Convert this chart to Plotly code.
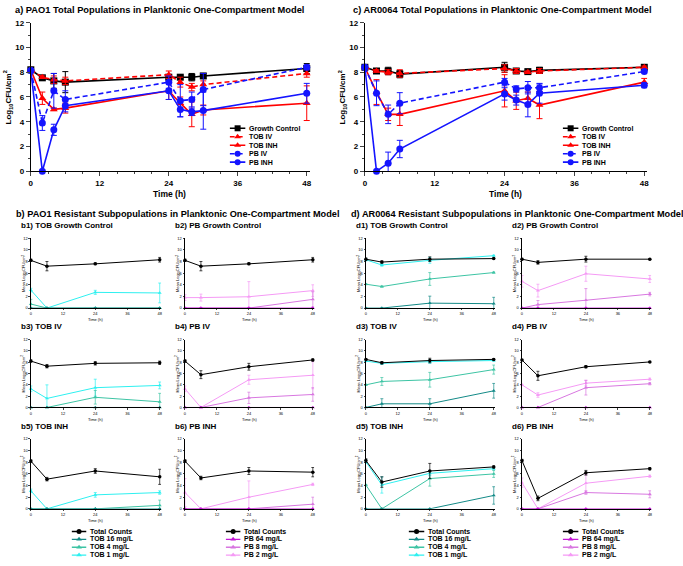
import plotly.graph_objects as go

W, H = 683, 566

# ---------------- DATA ----------------
TIME_BIG = [0, 2, 4, 6, 24, 26, 28, 30, 48]
BIG_NAMES = ["Growth Control", "TOB IV", "TOB INH", "PB IV", "PB INH"]

PAO1_GC = [8.2, 7.55, 7.3, 7.2, 7.6, 7.6, 7.6, 7.7, 8.3]
PAO1_GC_SD = [0.1, 0.15, 0.6, 0.85, 0.2, 0.15, 0.3, 0.2, 0.4]
PAO1_TOB_IV = [8.2, 7.6, 7.4, 7.3, 7.8, 7.2, 6.8, 7.0, 7.9]
PAO1_TOB_IV_SD = [0.1, 0.1, 0.3, 0.3, 0.3, 0.4, 0.3, 0.3, 0.3]
PAO1_TOB_INH = [8.2, 5.9, 5.0, 5.1, 6.5, 5.5, 4.6, 4.95, 5.5]
PAO1_TOB_INH_SD = [0.1, 0.5, 0.1, 0.4, 0.7, 0.5, 1.0, 0.4, 1.4]
PAO1_PB_IV = [8.15, 3.9, 6.5, 5.8, 7.2, 5.7, 5.8, 6.6, 8.4]
PAO1_PB_IV_SD = [0.1, 0.6, 1.4, 0.7, 0.5, 1.3, 0.6, 1.3, 0.2]
PAO1_PB_INH = [8.15, 0.0, 3.35, 5.3, 6.5, 5.0, 4.8, 4.9, 6.3]
PAO1_PB_INH_SD = [0.1, 0.0, 0.45, 0.5, 0.7, 0.6, 0.3, 1.5, 0.8]

AR_GC = [8.4, 8.1, 8.1, 7.85, 8.4, 8.1, 8.05, 8.15, 8.4]
AR_GC_SD = [0.1, 0.15, 0.3, 0.3, 0.4, 0.2, 0.15, 0.25, 0.15]
AR_TOB_IV = [8.4, 8.1, 8.0, 7.9, 8.3, 8.1, 8.0, 8.1, 8.4]
AR_TOB_IV_SD = [0.1, 0.1, 0.2, 0.3, 0.3, 0.2, 0.1, 0.2, 0.1]
AR_TOB_INH = [8.4, 6.4, 4.6, 4.6, 6.5, 5.7, 5.9, 5.35, 7.2]
AR_TOB_INH_SD = [0.1, 1.0, 0.5, 0.9, 1.3, 0.7, 0.5, 1.1, 0.3]
AR_PB_IV = [8.4, 6.3, 4.6, 5.5, 7.2, 6.65, 6.75, 6.75, 8.05]
AR_PB_IV_SD = [0.1, 1.0, 0.75, 0.85, 0.3, 0.25, 0.5, 0.3, 0.1]
AR_PB_INH = [8.4, 0.0, 0.65, 1.8, 6.25, 5.75, 5.4, 6.3, 6.95]
AR_PB_INH_SD = [0.1, 0.0, 0.9, 0.7, 0.5, 0.4, 1.0, 0.8, 0.2]

TIME_SUB = [0, 6, 24, 48]
TOB_NAMES = ["Total Counts", "TOB 16 mg/L", "TOB 4 mg/L", "TOB 1 mg/L"]
PB_NAMES = ["Total Counts", "PB 64 mg/L", "PB 8 mg/L", "PB 2 mg/L"]

# each: [Total, high, mid, low]
B1_MEAN = [[8.2, 7.2, 7.6, 8.3], [0, 0, 0, 0], [0.7, 0, 0, 0], [3.1, 0, 2.7, 2.6]]
B1_SD = [[0.2, 0.8, 0.15, 0.4], [0, 0, 0, 0], [0.8, 0, 0, 0], [0.3, 0, 0.35, 1.7]]
B2_MEAN = [[8.2, 7.2, 7.6, 8.3], [0, 0, 0, 0], [0, 0, 0, 1.5], [1.8, 1.8, 1.95, 3.0]]
B2_SD = [[0.2, 0.8, 0.15, 0.4], [0, 0, 0, 0], [0, 0, 0, 1.3], [0.5, 0.6, 2.6, 1.0]]
B3_MEAN = [[8.2, 7.3, 7.8, 7.9], [0, 0, 0, 0], [0, 0, 1.8, 1.0], [3.3, 1.6, 3.5, 3.9]]
B3_SD = [[0.2, 0.3, 0.3, 0.3], [0, 0, 0, 0], [0, 0, 1.2, 1.5], [0.5, 2.4, 1.5, 0.6]]
B4_MEAN = [[8.2, 5.8, 7.2, 8.4], [0, 0, 0, 0], [0, 0, 1.7, 2.3], [3.3, 0, 4.9, 5.7]]
B4_SD = [[0.2, 0.7, 0.6, 0.2], [0, 0, 0, 0], [0, 0, 1.0, 1.2], [0.5, 0, 0.8, 2.4]]
B5_MEAN = [[8.2, 5.1, 6.5, 5.5], [0, 0, 0, 0], [0, 0, 0, 0.6], [3.1, 0, 2.4, 2.8]]
B5_SD = [[0.2, 0.3, 0.4, 1.3], [0, 0, 0, 0], [0, 0, 0, 0.9], [0.3, 0, 0.4, 0.3]]
B6_MEAN = [[8.2, 5.3, 6.5, 6.3], [0, 0, 0, 0], [0, 0, 0, 0.8], [2.8, 0, 2.0, 4.2]]
B6_SD = [[0.2, 0.3, 0.6, 0.8], [0, 0, 0, 0], [0, 0, 0, 1.2], [2.4, 0, 2.8, 0.2]]

D1_MEAN = [[8.4, 7.9, 8.4, 8.5], [0, 0, 0.85, 0.75], [4.1, 3.7, 5.0, 6.1], [8.3, 7.4, 8.2, 9.0]]
D1_SD = [[0.2, 0.2, 0.4, 0.1], [0, 0, 1.2, 1.1], [0.1, 0.1, 1.1, 0.1], [0.2, 0.2, 0.5, 0.1]]
D2_MEAN = [[8.4, 7.85, 8.4, 8.4], [0, 0, 0, 0], [0, 0.6, 1.35, 2.4], [4.6, 3.0, 5.9, 5.0]]
D2_SD = [[0.15, 0.3, 0.5, 0.1], [0, 0, 0, 0], [0, 0.7, 2.0, 0.3], [1.0, 1.1, 1.3, 0.6]]
D3_MEAN = [[8.5, 7.9, 8.3, 8.5], [0, 0.65, 0.65, 2.95], [4.0, 4.6, 4.9, 6.7], [8.2, 7.8, 8.1, 8.3]]
D3_SD = [[0.15, 0.2, 0.4, 0.15], [0, 0.9, 0.9, 1.3], [0.1, 0.7, 1.3, 0.8], [0.1, 0.2, 0.3, 0.1]]
D4_MEAN = [[8.4, 5.6, 7.2, 8.05], [0, 0, 0, 0], [0, 0, 3.5, 4.2], [4.0, 2.2, 4.3, 5.0]]
D4_SD = [[0.1, 0.8, 0.2, 0.1], [0, 0, 0, 0], [0, 0, 1.3, 0.2], [0.1, 0.4, 0.5, 0.2]]
D5_MEAN = [[8.3, 4.6, 6.5, 7.2], [0, 0, 0, 2.3], [4.1, 0, 5.2, 6.0], [8.1, 4.1, 6.1, 6.9]]
D5_SD = [[0.3, 0.9, 1.3, 0.2], [0, 0, 0, 1.5], [0.1, 0, 1.3, 0.6], [0.3, 1.4, 0.4, 0.2]]
D6_MEAN = [[8.3, 1.8, 6.2, 6.9], [0, 0, 0, 0], [0, 0, 2.8, 2.5], [4.5, 0, 4.4, 5.6]]
D6_SD = [[0.2, 0.4, 0.4, 0.2], [0, 0, 0, 0], [0, 0, 0.3, 0.6], [0.8, 0, 1.5, 0.2]]

# ---------------- STYLE ----------------
BOLD = "Liberation Sans, Arial, sans-serif"
BIG_COLORS = ["#000000", "#FF0000", "#FF0000", "#1414FF", "#1414FF"]
BIG_SYMBOLS = ["square", "triangle-up", "triangle-up", "circle", "circle"]
BIG_DASH = ["solid", "5px,3px", "solid", "5px,3px", "solid"]
TOB_COLORS = ["#000000", "#138A87", "#3DC4A4", "#2EF0F0"]
PB_COLORS = ["#000000", "#C416D6", "#D877E0", "#F59AF5"]
SUB_SYMBOLS = ["circle", "triangle-up", "triangle-up", "triangle-up"]

fig = go.Figure()
layout = dict(width=W, height=H, margin=dict(l=0, r=0, t=0, b=0),
              paper_bgcolor="white", plot_bgcolor="white", showlegend=False,
              font=dict(family=BOLD, color="black"))
annotations = []
axis_count = [0]


def px_x(a, b):
    return [a / W, b / W]


def px_y(top, bottom):
    return [1 - bottom / H, 1 - top / H]


def new_axes(x0, x1, ytop, ybot, xr, yr, xaxis_extra=None, yaxis_extra=None):
    axis_count[0] += 1
    k = axis_count[0]
    sfx = "" if k == 1 else str(k)
    xa = dict(domain=px_x(x0, x1), anchor="y" + sfx, range=xr, showgrid=False,
              zeroline=False, showline=True, linecolor="black", linewidth=1)
    ya = dict(domain=px_y(ytop, ybot), anchor="x" + sfx, range=yr, showgrid=False,
              zeroline=False, showline=True, linecolor="black", linewidth=1)
    if xaxis_extra:
        xa.update(xaxis_extra)
    if yaxis_extra:
        ya.update(yaxis_extra)
    layout["xaxis" + sfx] = xa
    layout["yaxis" + sfx] = ya
    return "x" + sfx, "y" + sfx


def text(x, y, s, size, bold=True, xanchor="left", angle=0, yanchor="middle"):
    annotations.append(dict(x=x / W, y=1 - y / H, xref="paper", yref="paper", text=("<b>%s</b>" % s) if bold else s,
                            showarrow=False, xanchor=xanchor, yanchor=yanchor, textangle=angle,
                            borderpad=0, font=dict(size=size, family=BOLD, color="black")))


def legend_block(x0, x1, ytop, ybot, names, colors, symbols, dashes, msize, lw, fsize):
    n = len(names)
    xa, ya = new_axes(x0, x1, ytop, ybot, [0, 1], [n - 0.5, -0.5],
                      dict(visible=False), dict(visible=False))
    for i, nm in enumerate(names):
        fig.add_trace(go.Scatter(x=[0, 0.5, 1], y=[i, i, i], xaxis=xa, yaxis=ya, mode="lines",
                                 line=dict(color=colors[i], width=lw, dash=dashes[i]),
                                 cliponaxis=False, hoverinfo="skip"))
        fig.add_trace(go.Scatter(x=[0.5], y=[i], xaxis=xa, yaxis=ya, mode="markers",
                                 marker=dict(color=colors[i], symbol=symbols[i], size=msize),
                                 cliponaxis=False, hoverinfo="skip"))
        annotations.append(dict(x=1, y=i, xref=xa, yref=ya, text="<b>%s</b>" % nm, showarrow=False,
                                xanchor="left", yanchor="middle", xshift=2, borderpad=0,
                                font=dict(size=fsize, family=BOLD, color="black")))


def big_panel(x0, x1, xmax, series, sds):
    tickf = dict(size=8, family=BOLD, color="black")
    xa, ya = new_axes(x0, x1, 19, 170, [0, xmax], [0, 12],
                      dict(tickvals=[0, 12, 24, 36, 48], ticktext=["<b>%d</b>" % v for v in [0, 12, 24, 36, 48]],
                           ticks="outside", ticklen=4, tickfont=tickf,
                           minor=dict(ticks="outside", ticklen=2, dtick=3, tick0=0)),
                      dict(tickvals=list(range(0, 13, 2)), ticktext=["<b>%d</b>" % v for v in range(0, 13, 2)],
                           ticks="outside", ticklen=4, tickfont=tickf,
                           minor=dict(ticks="outside", ticklen=2, dtick=1, tick0=0)))
    for i in range(len(series)):
        fig.add_trace(go.Scatter(x=TIME_BIG, y=series[i], xaxis=xa, yaxis=ya, mode="lines+markers",
                                 line=dict(color=BIG_COLORS[i], width=1.6, dash=BIG_DASH[i]),
                                 marker=dict(color=BIG_COLORS[i], symbol=BIG_SYMBOLS[i], size=7),
                                 error_y=dict(type="data", array=sds[i], color=BIG_COLORS[i],
                                              thickness=1, width=3),
                                 cliponaxis=False, opacity=1))


def sub_panel(x0, x1, ytop, ybot, means, sds, colors):
    tickf = dict(size=4, family=BOLD, color="black")
    xa, ya = new_axes(x0, x1, ytop, ybot, [0, 48.5], [0, 12],
                      dict(tickvals=[0, 12, 24, 36, 48], ticks="outside", ticklen=1.5, tickfont=tickf,
                           tickwidth=0.6, linewidth=0.7),
                      dict(tickvals=list(range(0, 13, 2)), ticks="outside", ticklen=1.5, tickfont=tickf,
                           tickwidth=0.6, linewidth=0.7))
    for i in [3, 2, 1, 0]:
        fig.add_trace(go.Scatter(x=TIME_SUB, y=means[i], xaxis=xa, yaxis=ya, mode="lines+markers",
                                 line=dict(color=colors[i], width=1),
                                 marker=dict(color=colors[i], symbol=SUB_SYMBOLS[i], size=3.5),
                                 error_y=dict(type="data", array=sds[i], color=colors[i],
                                              thickness=0.7, width=1.5),
                                 cliponaxis=False))
    text((x0 + x1) / 2, ybot + 12, "Time (h)", 4, bold=False, xanchor="center")
    text(x0 - 7, (ytop + ybot) / 2, "Mean Log<sub>10</sub>CFU/cm<sup>2</sup>", 4, bold=False,
         xanchor="center", angle=-90)


# ---------------- BIG PANELS ----------------
big_panel(29, 310, 48.6,
          [PAO1_GC, PAO1_TOB_IV, PAO1_TOB_INH, PAO1_PB_IV, PAO1_PB_INH],
          [PAO1_GC_SD, PAO1_TOB_IV_SD, PAO1_TOB_INH_SD, PAO1_PB_IV_SD, PAO1_PB_INH_SD])
big_panel(365, 649, 48.5,
          [AR_GC, AR_TOB_IV, AR_TOB_INH, AR_PB_IV, AR_PB_INH],
          [AR_GC_SD, AR_TOB_IV_SD, AR_TOB_INH_SD, AR_PB_IV_SD, AR_PB_INH_SD])

text(12, 6, "a) PAO1 Total Populations in Planktonic One-Compartment Model", 9.3)
text(352, 6, "c) AR0064 Total Populations in Planktonic One-Compartment Model", 9.3)
text(168, 193, "Time (h)", 8.5, xanchor="center")
text(506, 193, "Time (h)", 8.5, xanchor="center")
text(6, 95, "Log<sub>10</sub>CFU/cm<sup>2</sup>", 8, xanchor="center", angle=-90)
text(342, 95, "Log<sub>10</sub>CFU/cm<sup>2</sup>", 8, xanchor="center", angle=-90)

legend_block(229, 245, 122, 165, BIG_NAMES, BIG_COLORS, BIG_SYMBOLS, BIG_DASH, 6, 1.6, 7)
legend_block(564, 580, 122, 165, BIG_NAMES, BIG_COLORS, BIG_SYMBOLS, BIG_DASH, 6, 1.6, 7)

# ---------------- SUB PANELS ----------------
text(13, 213, "b) PAO1 Resistant Subpopulations in Planktonic One-Compartment Model", 9.2)
text(350, 213, "d) AR0064 Resistant Subpopulations in Planktonic One-Compartment Model", 9.2)

ROWS = [(238, 309), (341, 410), (442, 513)]
COLS_B = [(29, 160), (184, 314)]
COLS_D = [(366, 496), (523, 653)]

b_panels = [(B1_MEAN, B1_SD, "b1) TOB Growth Control"), (B2_MEAN, B2_SD, "b2) PB Growth Control"),
            (B3_MEAN, B3_SD, "b3) TOB IV"), (B4_MEAN, B4_SD, "b4) PB IV"),
            (B5_MEAN, B5_SD, "b5) TOB INH"), (B6_MEAN, B6_SD, "b6) PB INH")]
d_panels = [(D1_MEAN, D1_SD, "d1) TOB Growth Control"), (D2_MEAN, D2_SD, "d2) PB Growth Control"),
            (D3_MEAN, D3_SD, "d3) TOB IV"), (D4_MEAN, D4_SD, "d4) PB IV"),
            (D5_MEAN, D5_SD, "d5) TOB INH"), (D6_MEAN, D6_SD, "d6) PB INH")]

for panels, cols in [(b_panels, COLS_B), (d_panels, COLS_D)]:
    for idx, (m, s, title) in enumerate(panels):
        r, c = divmod(idx, 2)
        x0, x1 = cols[c]
        yt, yb = ROWS[r]
        sub_panel(x0, x1, yt, yb, m, s, TOB_COLORS if c == 0 else PB_COLORS)
        text(x0 - 11, yt - 13, title, 8)

sub_dash = ["solid"] * 4
legend_block(70, 85, 532, 564, TOB_NAMES, TOB_COLORS, SUB_SYMBOLS, sub_dash, 5, 1.4, 7)
legend_block(225, 240, 532, 564, PB_NAMES, PB_COLORS, SUB_SYMBOLS, sub_dash, 5, 1.4, 7)
legend_block(409, 425, 532, 564, TOB_NAMES, TOB_COLORS, SUB_SYMBOLS, sub_dash, 5, 1.4, 7)
legend_block(564, 580, 532, 564, PB_NAMES, PB_COLORS, SUB_SYMBOLS, sub_dash, 5, 1.4, 7)

layout["annotations"] = annotations
fig.update_layout(**layout)
fig.write_html("out.html", config={"displayModeBar": False},
               post_script="document.body.style.margin='0px';document.body.style.overflow='hidden';")
